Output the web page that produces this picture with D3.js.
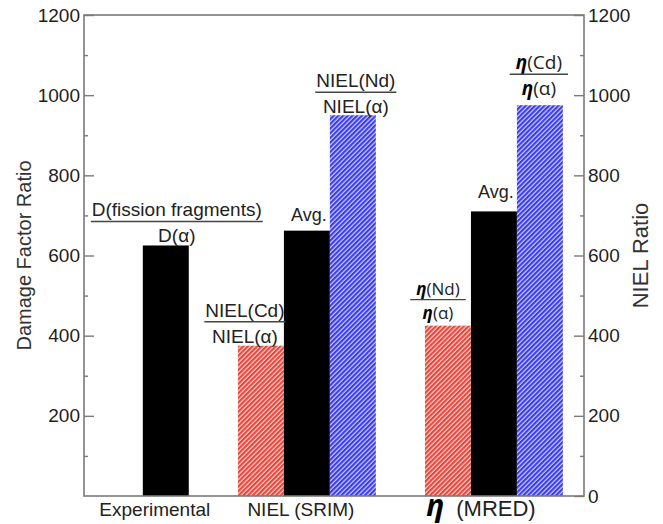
<!DOCTYPE html>
<html>
<head>
<meta charset="utf-8">
<script src="https://cdn.jsdelivr.net/npm/d3@7"></script>
<style>
  body { margin: 0; background: #fff; }
  svg { display: block; }
</style>
</head>
<body>
<svg id="chart" width="663" height="524"></svg>
<script>
// ---- data ----
const groupNames = ["Experimental", "NIEL (SRIM)", "(MRED)"];
const experimentalValues = [625];          // D(fission fragments)/D(α)
const srimValues = [375, 662, 950];        // NIEL(Cd)/NIEL(α), Avg., NIEL(Nd)/NIEL(α)
const mredValues = [425, 710, 975];        // η(Nd)/η(α), Avg., η(Cd)/η(α)
const leftTicks = [200, 400, 600, 800, 1000, 1200];
const rightTicks = [0, 200, 400, 600, 800, 1000, 1200];
const minorTicks = [100, 300, 500, 700, 900, 1100];
const leftTitle = "Damage Factor Ratio";
const rightTitle = "NIEL Ratio";
const fractionNumerators = ["D(fission fragments)", "NIEL(Cd)", "NIEL(Nd)", "(Nd)", "(Cd)"];
const fractionDenominators = ["D(α)", "NIEL(α)", "NIEL(α)", "(α)", "(α)"];
const avgLabel = "Avg.";

// ---- layout ----
const plot = { left: 84, right: 584, top: 15, bottom: 496 };
const svg = d3.select("#chart");

const y = d3.scaleLinear().domain([0, 1200]).range([plot.bottom, plot.top]);

// bar slots measured in bar widths
const leftPad = 1.28, groupGap = 1.07, rightPad = 0.46;
const groupValues = [experimentalValues, srimValues, mredValues];
const bars = [];
let cursor = leftPad;
const groupCenters = [];
groupValues.forEach((vals, gi) => {
  const g0 = cursor;
  vals.forEach((v, i) => {
    bars.push({ group: gi, index: i, n: vals.length, value: v, start: cursor });
    cursor += 1;
  });
  groupCenters.push((g0 + cursor) / 2);
  cursor += gi < groupValues.length - 1 ? groupGap : rightPad;
});
const x = d3.scaleLinear().domain([0, cursor]).range([plot.left, plot.right]);

// ---- hatch patterns ----
const defs = svg.append("defs");
function hatch(id, color, bg) {
  const p = defs.append("pattern")
    .attr("id", id)
    .attr("patternUnits", "userSpaceOnUse")
    .attr("width", 3.3).attr("height", 10)
    .attr("patternTransform", "rotate(45)");
  p.append("rect").attr("width", 3.3).attr("height", 10).attr("fill", bg);
  p.append("rect").attr("width", 2.1).attr("height", 10).attr("fill", color);
}
hatch("hatchRed", "#e8463d", "#fbd3cd");
hatch("hatchBlue", "#3b3cf2", "#cfd0fb");

function barFill(b) {
  if (b.n === 1) return "#000";
  return ["url(#hatchRed)", "#000", "url(#hatchBlue)"][b.index];
}

// ---- bars ----
svg.append("g").selectAll("rect").data(bars).join("rect")
  .attr("x", d => x(d.start))
  .attr("width", d => x(d.start + 1) - x(d.start))
  .attr("y", d => y(d.value))
  .attr("height", d => y(0) - y(d.value))
  .attr("fill", barFill);

// ---- frame & axes ----
const axisColor = "#7a7a7a";
svg.append("rect")
  .attr("x", plot.left).attr("y", plot.top)
  .attr("width", plot.right - plot.left).attr("height", plot.bottom - plot.top)
  .attr("fill", "none").attr("stroke", axisColor).attr("stroke-width", 1.6);

function styleAxis(g) {
  g.select(".domain").remove();
  g.selectAll(".tick line").attr("stroke", axisColor).attr("stroke-width", 1.4);
  g.selectAll(".tick text")
    .attr("font-family", "'Liberation Sans', Arial, sans-serif")
    .attr("font-size", 19).attr("fill", "#1e1e1e");
}

svg.append("g").attr("transform", `translate(${plot.left},0)`)
  .call(d3.axisLeft(y).tickValues(leftTicks).tickSizeInner(-10).tickSizeOuter(0).tickPadding(4).tickFormat(d3.format("d")))
  .call(styleAxis);
svg.append("g").attr("transform", `translate(${plot.left},0)`)
  .call(d3.axisLeft(y).tickValues(minorTicks).tickSizeInner(-4).tickSizeOuter(0).tickFormat(""))
  .call(styleAxis);
svg.append("g").attr("transform", `translate(${plot.right},0)`)
  .call(d3.axisRight(y).tickValues(rightTicks).tickSizeInner(-10).tickSizeOuter(0).tickPadding(4).tickFormat(d3.format("d")))
  .call(styleAxis);
svg.append("g").attr("transform", `translate(${plot.right},0)`)
  .call(d3.axisRight(y).tickValues(minorTicks).tickSizeInner(-4).tickSizeOuter(0).tickFormat(""))
  .call(styleAxis);

// axis titles
const sans = "'Liberation Sans', Arial, sans-serif";
const yMid = (plot.top + plot.bottom) / 2;
svg.append("text")
  .attr("transform", `translate(31,${yMid}) rotate(-90)`)
  .attr("text-anchor", "middle")
  .attr("font-family", sans).attr("font-size", 20).attr("fill", "#333")
  .text(leftTitle);
svg.append("text")
  .attr("transform", `translate(648,${yMid}) rotate(-90)`)
  .attr("text-anchor", "middle")
  .attr("font-family", sans).attr("font-size", 22).attr("fill", "#333")
  .text(rightTitle);

// ---- category labels ----
const groupLabelDx = [-11, -6, -13];
groupNames.forEach((name, gi) => {
  const t = svg.append("text")
    .attr("x", x(groupCenters[gi]) + groupLabelDx[gi])
    .attr("y", 516)
    .attr("text-anchor", "middle")
    .attr("font-family", sans).attr("font-size", 19).attr("fill", "#222");
  if (gi === 2) {
    t.append("tspan")
      .attr("font-family", "'Open Sans', 'DejaVu Sans', sans-serif")
      .attr("font-weight", "bold").attr("font-style", "italic")
      .attr("font-size", 30).attr("fill", "#000")
      .text("η");
    t.append("tspan").attr("dx", 12).attr("font-size", 22).text(name);
  } else {
    t.text(name);
  }
});

// ---- fraction labels above bars ----
const fractionBars = [bars[0], bars[1], bars[3], bars[4], bars[6]];
const fractionStyle = [
  { dx: 11, lift: 24, size: 19, eta: false },
  { dx: -16, lift: 24, size: 19, eta: false },
  { dx: 3, lift: 23, size: 19, eta: false },
  { dx: -10, lift: 26, size: 17, eta: true },
  { dx: -1, lift: 31, size: 19, eta: true }
];
const etaFont = "'Open Sans', 'DejaVu Sans', sans-serif";

fractionBars.forEach((b, i) => {
  const s = fractionStyle[i];
  const cx = x(b.start + 0.5) + s.dx;
  const lineY = y(b.value) - s.lift;
  const g = svg.append("g");
  function label(str, baseline) {
    const t = g.append("text")
      .attr("x", cx).attr("y", baseline)
      .attr("text-anchor", "middle")
      .attr("font-size", s.size).attr("fill", "#222")
      .attr("font-family", s.eta ? etaFont : sans);
    if (s.eta) {
      t.append("tspan").attr("font-weight", "bold").attr("font-style", "italic").attr("fill", "#000").text("η");
      t.append("tspan").text(str);
    } else {
      t.text(str);
    }
    return t;
  }
  const num = label(fractionNumerators[i], lineY - 5);
  label(fractionDenominators[i], lineY + (s.eta ? s.size + 2 : 21));
  const bb = num.node().getBBox();
  const ext = s.eta ? 6 : 1;
  g.append("line")
    .attr("x1", bb.x - ext).attr("x2", bb.x + bb.width + ext)
    .attr("y1", lineY).attr("y2", lineY)
    .attr("stroke", "#444").attr("stroke-width", 1.4);
});

// ---- "Avg." labels over the average bars ----
const avgBars = [bars[2], bars[5]];
const avgLift = [10, 13];
avgBars.forEach((b, i) => {
  svg.append("text")
    .attr("x", x(b.start + 0.5) + 2)
    .attr("y", y(b.value) - avgLift[i])
    .attr("text-anchor", "middle")
    .attr("font-family", sans).attr("font-size", 18).attr("fill", "#222")
    .text(avgLabel);
});
</script>
</body>
</html>
